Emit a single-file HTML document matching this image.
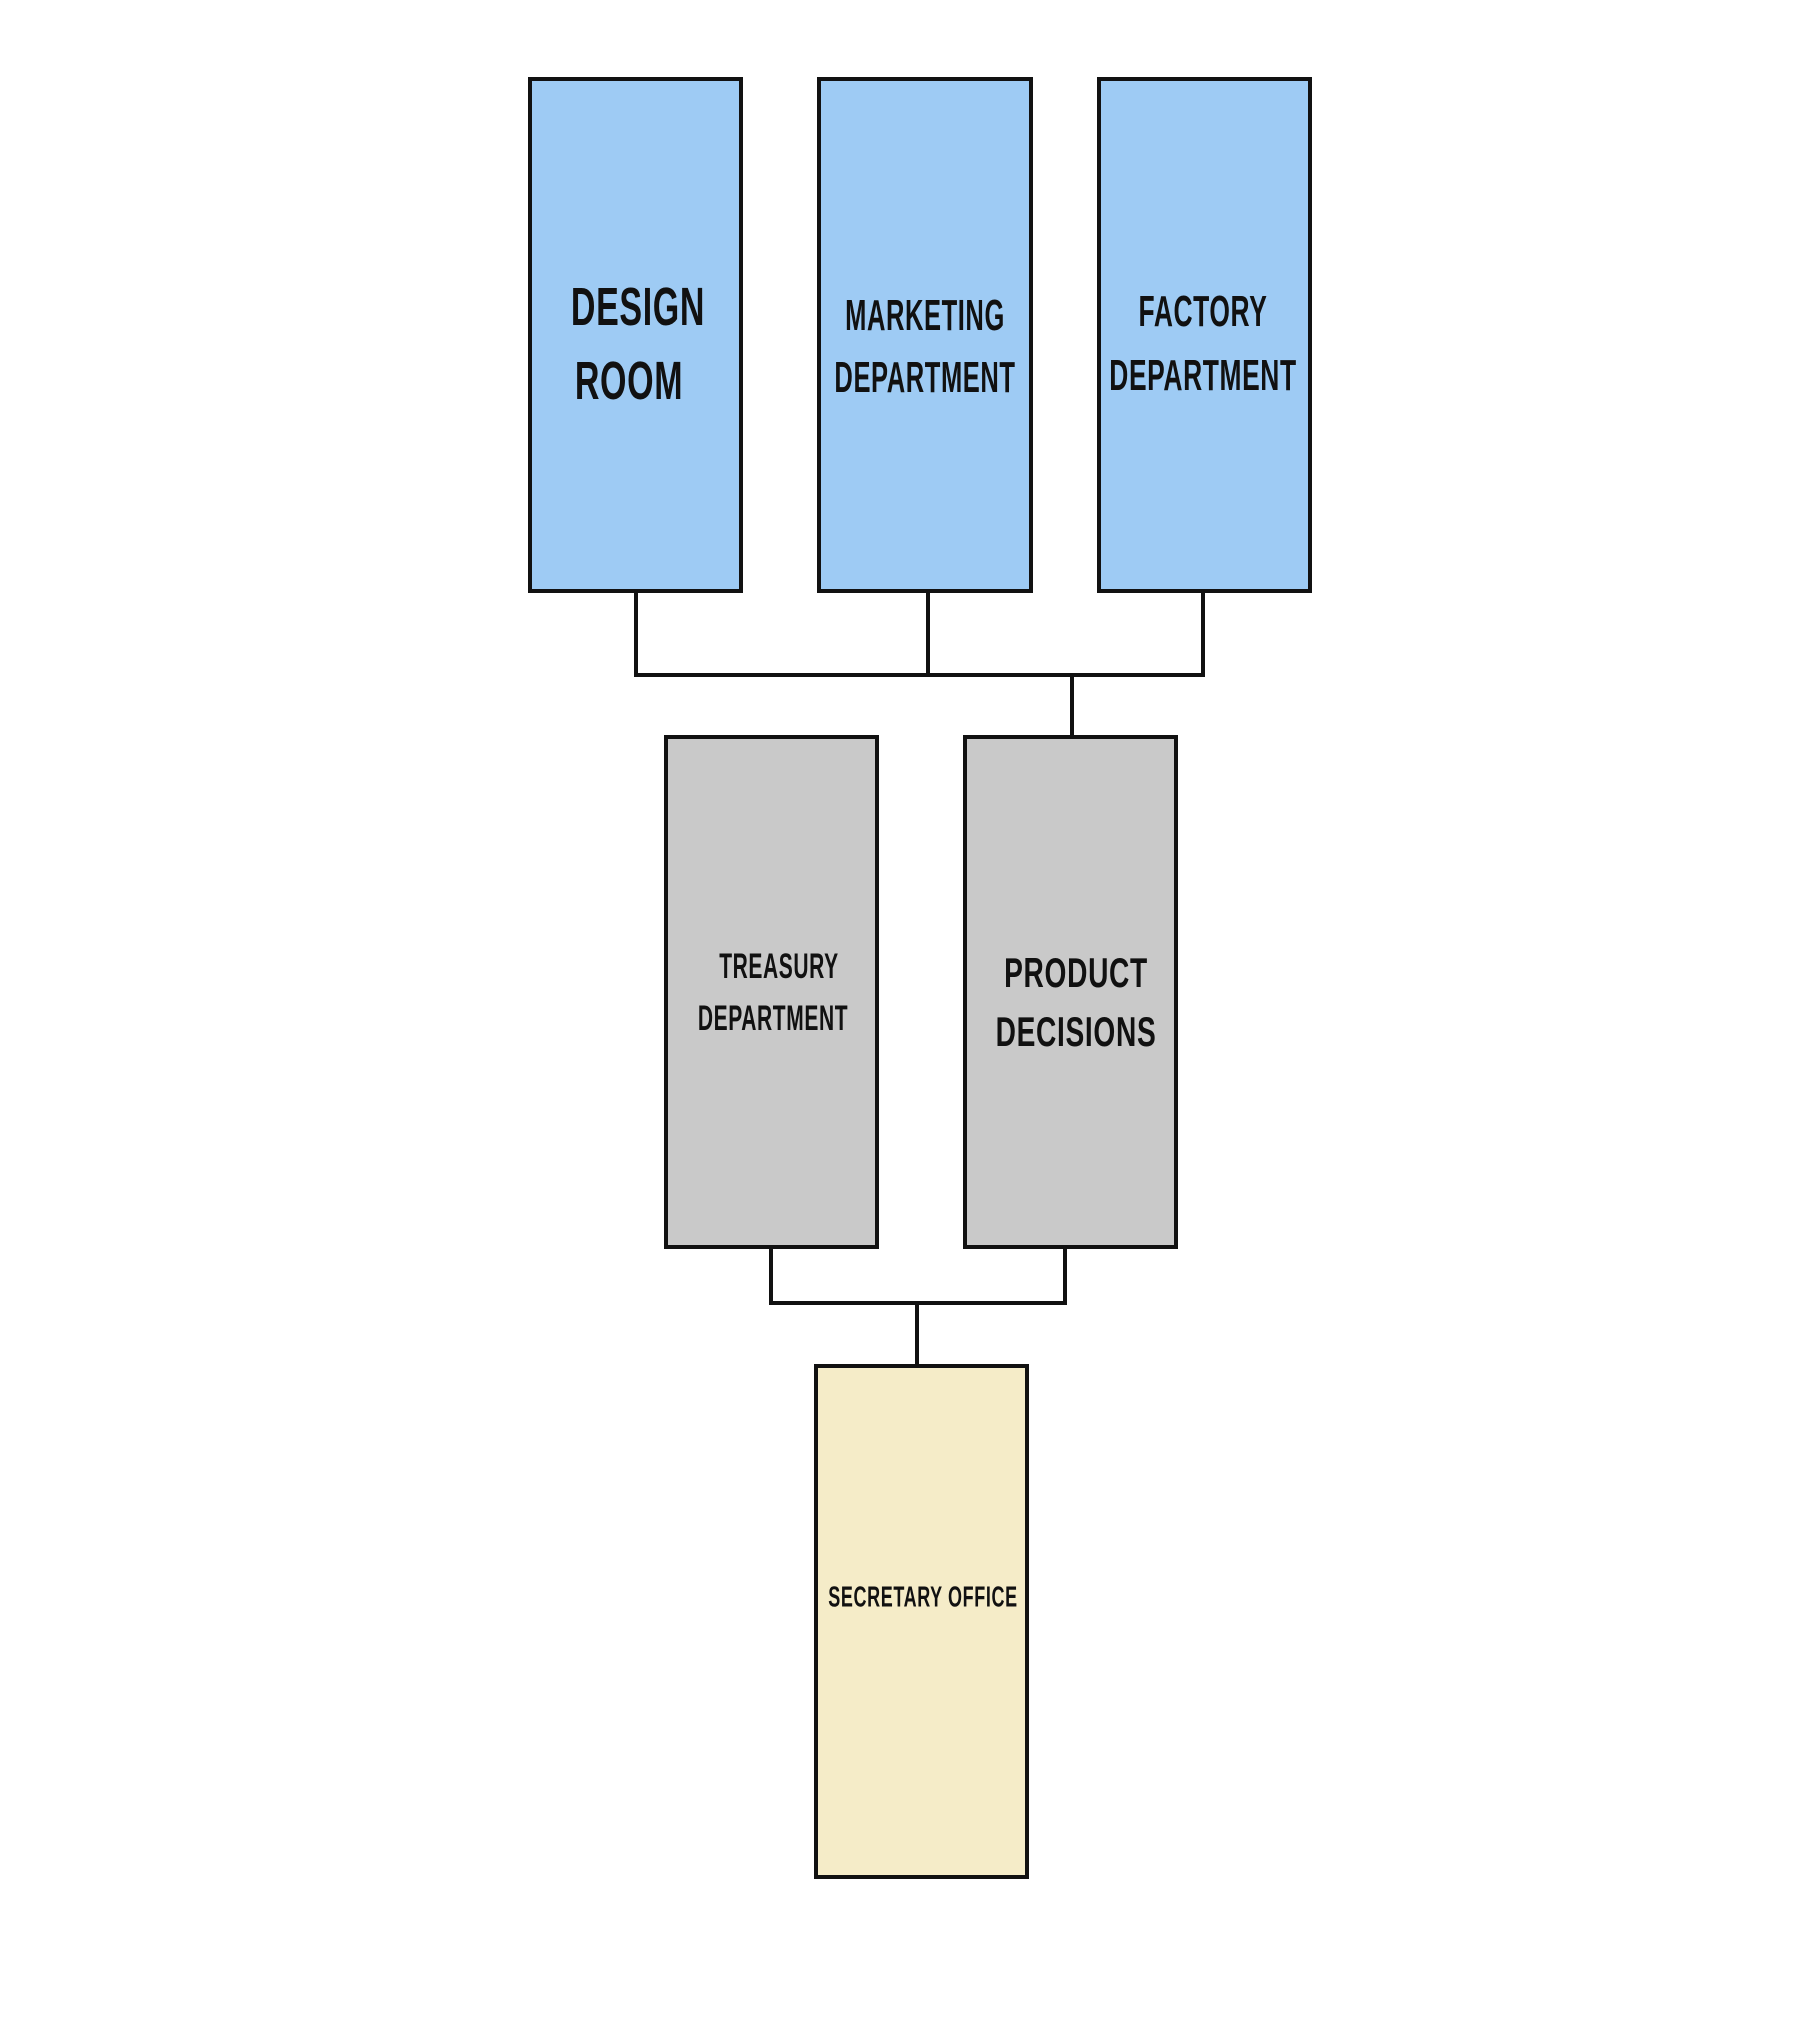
<!DOCTYPE html>
<html><head><style>
body{margin:0;width:1800px;height:2027px;background:#fff;position:relative;overflow:hidden}
.b{position:absolute;border:4px solid #111;box-sizing:border-box}
.l{position:absolute;background:#111}
.t{position:absolute;font-family:"Liberation Sans",sans-serif;font-weight:bold;color:#111;white-space:nowrap;letter-spacing:1px}
</style></head><body>
<div class="b" style="left:528px;top:77px;width:215px;height:516px;background:#9ecbf4"></div>
<div class="b" style="left:817px;top:77px;width:216px;height:516px;background:#9ecbf4"></div>
<div class="b" style="left:1097px;top:77px;width:215px;height:516px;background:#9ecbf4"></div>
<div class="b" style="left:664px;top:735px;width:215px;height:514px;background:#c9c9c9"></div>
<div class="b" style="left:963px;top:735px;width:215px;height:514px;background:#c9c9c9"></div>
<div class="b" style="left:814px;top:1364px;width:215px;height:515px;background:#f5ecc8"></div>
<div class="l" style="left:634px;top:593px;width:4px;height:84px"></div>
<div class="l" style="left:926px;top:593px;width:4px;height:84px"></div>
<div class="l" style="left:1201px;top:593px;width:4px;height:84px"></div>
<div class="l" style="left:634px;top:673px;width:571px;height:4px"></div>
<div class="l" style="left:1070px;top:673px;width:4px;height:63px"></div>
<div class="l" style="left:769px;top:1249px;width:4px;height:56px"></div>
<div class="l" style="left:1063px;top:1249px;width:4px;height:56px"></div>
<div class="l" style="left:769px;top:1301px;width:298px;height:4px"></div>
<div class="l" style="left:915px;top:1303px;width:4px;height:62px"></div>
<div class="t" style="left:638px;top:307px;font-size:54px;transform:translate(-50%,-50%) scaleX(0.63)">DESIGN</div>
<div class="t" style="left:629px;top:381px;font-size:54px;transform:translate(-50%,-50%) scaleX(0.63)">ROOM</div>
<div class="t" style="left:925px;top:316px;font-size:44px;transform:translate(-50%,-50%) scaleX(0.58)">MARKETING</div>
<div class="t" style="left:925px;top:378px;font-size:44px;transform:translate(-50%,-50%) scaleX(0.58)">DEPARTMENT</div>
<div class="t" style="left:1203px;top:312px;font-size:44px;transform:translate(-50%,-50%) scaleX(0.6)">FACTORY</div>
<div class="t" style="left:1203px;top:376px;font-size:44px;transform:translate(-50%,-50%) scaleX(0.6)">DEPARTMENT</div>
<div class="t" style="left:779px;top:967px;font-size:35px;transform:translate(-50%,-50%) scaleX(0.6)">TREASURY</div>
<div class="t" style="left:773px;top:1019px;font-size:35px;transform:translate(-50%,-50%) scaleX(0.6)">DEPARTMENT</div>
<div class="t" style="left:1076px;top:973px;font-size:42px;transform:translate(-50%,-50%) scaleX(0.67)">PRODUCT</div>
<div class="t" style="left:1076px;top:1032px;font-size:42px;transform:translate(-50%,-50%) scaleX(0.67)">DECISIONS</div>
<div class="t" style="left:923px;top:1598px;font-size:29px;transform:translate(-50%,-50%) scaleX(0.62)">SECRETARY OFFICE</div>
</body></html>
